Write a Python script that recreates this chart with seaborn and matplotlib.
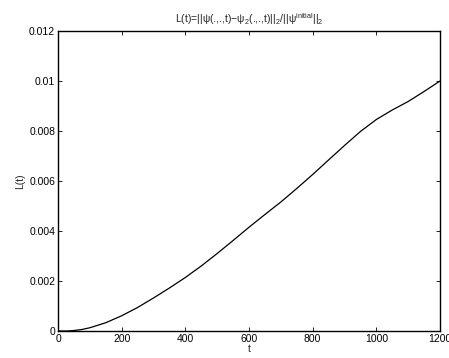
import matplotlib
matplotlib.use("Agg")
import matplotlib.pyplot as plt
import seaborn as sns
import pandas as pd

t = [0, 30, 50, 75, 100, 150, 200, 250, 300, 350, 400, 450, 500, 550, 600, 650, 700, 750,
     800, 855, 900, 950, 1000, 1050, 1100, 1150, 1200]
L = [0, 0, 0.00002, 0.00006, 0.00013, 0.00033, 0.00061, 0.00094, 0.00132, 0.00172, 0.00214,
     0.00260, 0.00310, 0.00362, 0.00415, 0.00466, 0.00516, 0.00570, 0.00626, 0.00690, 0.00742,
     0.00798, 0.00846, 0.00884, 0.00918, 0.00958, 0.01000]
xticks = [0, 200, 400, 600, 800, 1000, 1200]
yticks = [0, 0.002, 0.004, 0.006, 0.008, 0.01, 0.012]
ytick_labels = ["0", "0.002", "0.004", "0.006", "0.008", "0.01", "0.012"]

sns.set_style("ticks")
plt.rcParams['font.family'] = ['Liberation Sans', 'DejaVu Sans']
plt.rcParams['mathtext.default'] = 'regular'

df = pd.DataFrame({"t": t, "L": L})
fig = plt.figure(figsize=(4.49, 3.58), dpi=100)
ax = fig.add_axes([58/449, 27/358, 382/449, 300/358])
sns.lineplot(data=df, x="t", y="L", ax=ax, color="black", linewidth=0.9)
ax.set_xlim(0, 1200)
ax.set_ylim(0, 0.012)
ax.set_xticks(xticks)
ax.set_xticklabels([str(v) for v in xticks])
ax.set_yticks(yticks)
ax.set_yticklabels(ytick_labels)
ax.tick_params(direction="in", top=True, right=True, length=3, width=0.6,
               labelsize=7.5, pad=2, colors="black")
for s in ax.spines.values():
    s.set_linewidth(1.0)
    s.set_color("black")
ax.set_xlabel("t", fontsize=7.5, labelpad=0)
ax.set_ylabel("L(t)", fontsize=7.5, labelpad=3)
ax.set_title(r"L(t)=||ψ(.,.,t)−ψ$_2$(.,.,t)||$_2$/||ψ$^{initial}$||$_2$", fontsize=7.5, pad=6)
fig.savefig("out.png", dpi=100)
